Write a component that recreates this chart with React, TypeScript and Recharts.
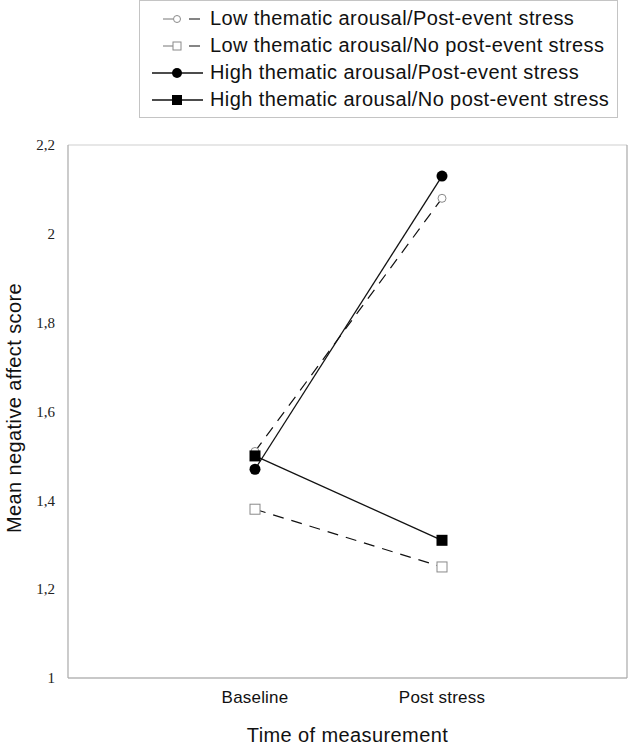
import React from "react";
import {
  LineChart,
  Line,
  XAxis,
  YAxis,
  CartesianGrid,
  Legend,
} from "recharts";

// time points
const categories = ["Baseline", "Post stress"];

// mean negative affect per group
const lowPostStress = [1.51, 2.08];
const lowNoPostStress = [1.38, 1.25];
const highPostStress = [1.47, 2.13];
const highNoPostStress = [1.5, 1.31];

const yTicks = [1, 1.2, 1.4, 1.6, 1.8, 2, 2.2];

const seriesNames = [
  "Low thematic arousal/Post-event stress",
  "Low thematic arousal/No post-event stress",
  "High thematic arousal/Post-event stress",
  "High thematic arousal/No post-event stress",
];

const data = categories.map((time, i) => ({
  time,
  lowPost: lowPostStress[i],
  lowNoPost: lowNoPostStress[i],
  highPost: highPostStress[i],
  highNoPost: highNoPostStress[i],
}));

const SANS = '"Liberation Sans", Arial, Helvetica, sans-serif';
const SERIF = '"Liberation Serif", "Times New Roman", serif';
const FRAME = "#a9a9a9";
const GRID = "#cfcfcf";
const MARKER_GREY = "#8a8a8a";

const formatTick = (v: number) => String(Number(v.toFixed(1))).replace(".", ",");

const OpenCircle = (props: any) => {
  const { cx, cy, index } = props;
  return <circle key={`oc-${index}`} cx={cx} cy={cy} r={4} fill="#fff" stroke={MARKER_GREY} strokeWidth={1} />;
};

const OpenSquare = (props: any) => {
  const { cx, cy, index } = props;
  return <rect key={`os-${index}`} x={cx - 5} y={cy - 5} width={10} height={10} fill="#fff" stroke={MARKER_GREY} strokeWidth={1} />;
};

const FilledCircle = (props: any) => {
  const { cx, cy, index } = props;
  return <circle key={`fc-${index}`} cx={cx} cy={cy} r={5.5} fill="#000" stroke="none" />;
};

const FilledSquare = (props: any) => {
  const { cx, cy, index } = props;
  return <rect key={`fs-${index}`} x={cx - 5.5} y={cy - 5.5} width={11} height={11} fill="#000" stroke="none" />;
};

const LegendMarker = ({ kind }: { kind: number }) => {
  if (kind < 2) {
    return (
      <svg width={70} height={20} style={{ flex: "none" }}>
        <line x1={23} y1={10} x2={33} y2={10} stroke="#777" strokeWidth={1} />
        {kind === 0 ? (
          <circle cx={37} cy={10} r={3.5} fill="#fff" stroke={MARKER_GREY} />
        ) : (
          <rect x={33} y={6} width={8} height={8} fill="#fff" stroke={MARKER_GREY} />
        )}
        <line x1={49} y1={10} x2={60} y2={10} stroke="#333" strokeWidth={1.2} />
      </svg>
    );
  }
  return (
    <svg width={70} height={20} style={{ flex: "none" }}>
      <line x1={12} y1={10} x2={63} y2={10} stroke="#111" strokeWidth={1.3} />
      {kind === 2 ? (
        <circle cx={37} cy={10} r={5} fill="#000" />
      ) : (
        <rect x={32} y={5} width={10} height={10} fill="#000" />
      )}
    </svg>
  );
};

const renderLegend = () => (
  <div
    style={{
      boxSizing: "border-box",
      width: 479,
      height: 118,
      border: "1px solid #c4c4c4",
      background: "#fff",
      paddingTop: 4,
      fontFamily: SANS,
      fontSize: 20,
      letterSpacing: 0.4,
      color: "#111",
    }}
  >
    {seriesNames.map((name, i) => (
      <div key={name} style={{ display: "flex", alignItems: "center", height: 27, whiteSpace: "nowrap" }}>
        <LegendMarker kind={i} />
        <span>{name}</span>
      </div>
    ))}
  </div>
);

const YLabel = () => (
  <text
    x={14}
    y={408}
    transform="rotate(-90 14 408)"
    textAnchor="middle"
    dominantBaseline="central"
    fontFamily={SANS}
    fontSize={20}
    letterSpacing={0.4}
    fill="#111"
  >
    Mean negative affect score
  </text>
);

export default function App() {
  return (
    <div style={{ position: "absolute", left: 0, top: 0, background: "#fff" }}>
      <LineChart width={630} height={746} data={data} margin={{ top: 145, right: 0, left: 0, bottom: 0 }}>
        <CartesianGrid vertical={false} stroke={GRID} strokeWidth={1} />
        <XAxis
          dataKey="time"
          padding={{ left: 187, right: 185 }}
          height={68}
          tickLine={false}
          tickSize={0}
          tickMargin={13}
          axisLine={{ stroke: FRAME, strokeWidth: 1.2 }}
          tick={{ fontFamily: SANS, fontSize: 17, fill: "#111", letterSpacing: 0.2 }}
          label={{
            value: "Time of measurement",
            position: "insideBottom",
            offset: 4,
            style: { fontFamily: SANS, fontSize: 20, letterSpacing: 0.4, fill: "#111" },
          }}
        />
        <YAxis
          yAxisId="left"
          width={68}
          domain={[1, 2.2]}
          ticks={yTicks}
          interval={0}
          tickLine={false}
          tickSize={0}
          tickMargin={13}
          tickFormatter={formatTick}
          axisLine={{ stroke: FRAME, strokeWidth: 1.2 }}
          tick={{ fontFamily: SERIF, fontSize: 15, fill: "#222" }}
          label={{ content: () => <YLabel /> }}
        />
        <YAxis
          yAxisId="right"
          orientation="right"
          width={3}
          domain={[1, 2.2]}
          tick={false}
          tickLine={false}
          axisLine={{ stroke: FRAME, strokeWidth: 1.2 }}
        />
        <Legend
          layout="horizontal"
          verticalAlign="middle"
          align="center"
          content={renderLegend}
          wrapperStyle={{ left: 139, top: 0, width: 479, height: 118 }}
        />
        <Line
          yAxisId="left"
          dataKey="lowPost"
          name={seriesNames[0]}
          stroke="#111"
          strokeWidth={1.2}
          strokeDasharray="11 8"
          dot={OpenCircle}
          isAnimationActive={false}
        />
        <Line
          yAxisId="left"
          dataKey="lowNoPost"
          name={seriesNames[1]}
          stroke="#111"
          strokeWidth={1.2}
          strokeDasharray="11 8"
          dot={OpenSquare}
          isAnimationActive={false}
        />
        <Line
          yAxisId="left"
          dataKey="highPost"
          name={seriesNames[2]}
          stroke="#111"
          strokeWidth={1.3}
          dot={FilledCircle}
          isAnimationActive={false}
        />
        <Line
          yAxisId="left"
          dataKey="highNoPost"
          name={seriesNames[3]}
          stroke="#111"
          strokeWidth={1.3}
          dot={FilledSquare}
          isAnimationActive={false}
        />
      </LineChart>
    </div>
  );
}
